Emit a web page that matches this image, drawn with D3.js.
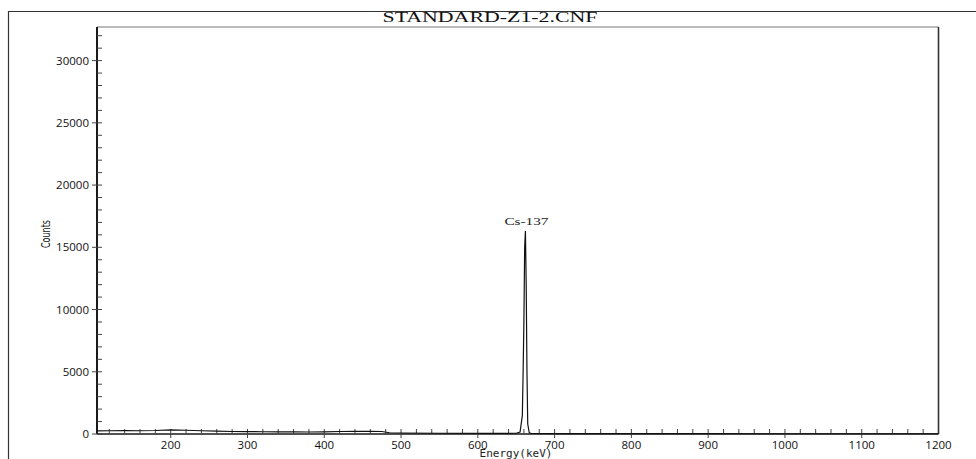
<!DOCTYPE html>
<html><head><meta charset="utf-8">
<script src="https://cdn.jsdelivr.net/npm/d3@7"></script>
<style>body{margin:0;background:#fff}svg{display:block}</style>
</head><body><svg id="c" width="976" height="459"></svg>
<script>
const title = "STANDARD-Z1-2.CNF";
const peakLabel = "Cs-137";
const peakEnergy = 662;
const xLabel = "Energy(keV)";
const yLabel = "Counts";
const xTicks = [200,300,400,500,600,700,800,900,1000,1100,1200];
const yTicks = [0,5000,10000,15000,20000,25000,30000];
const energy = [104,120,140,160,180,200,220,240,260,280,300,320,340,360,380,400,420,440,460,475,485,500,550,600,640,650,655,658,659,660,661,662,663,664,665,667,670,700,800,900,1000,1100,1200];
const counts = [250,260,270,260,280,330,300,260,230,200,190,180,170,170,160,170,200,210,220,200,100,80,60,50,50,60,150,1500,5000,9000,15000,16300,12000,5000,800,100,40,30,25,25,20,20,20];

const svg = d3.select("#c");
const L=97,R=938.5,T=27,B=434;
const x = d3.scaleLinear().domain([104,1200]).range([L,R]);
const y = d3.scaleLinear().domain([0,32700]).range([B,T]);
const ink="#1a1a1a";

// outer frame
svg.append("line").attr("x1",8).attr("x2",976).attr("y1",11.5).attr("y2",11.5).attr("stroke","#333").attr("stroke-width",1.2);
svg.append("line").attr("x1",8.5).attr("x2",8.5).attr("y1",11).attr("y2",459).attr("stroke","#333").attr("stroke-width",1.2);

// title
svg.append("text").attr("x",490).attr("y",22).attr("text-anchor","middle")
  .attr("font-family","Liberation Serif").attr("font-size",15)
  .attr("textLength",215).attr("lengthAdjust","spacingAndGlyphs").attr("fill","#111").text(title);

// plot frame
svg.append("line").attr("x1",L).attr("x2",R).attr("y1",T).attr("y2",T).attr("stroke","#777").attr("stroke-width",1.2);
svg.append("line").attr("x1",R).attr("x2",R).attr("y1",T).attr("y2",B).attr("stroke","#333").attr("stroke-width",1.6);
svg.append("line").attr("x1",L).attr("x2",R).attr("y1",B).attr("y2",B).attr("stroke",ink).attr("stroke-width",1.4);
svg.append("line").attr("x1",L).attr("x2",L).attr("y1",T).attr("y2",B).attr("stroke",ink).attr("stroke-width",2);

// y ticks
const yMinor = d3.range(0,33000,1000);
svg.append("g").selectAll("line").data(yMinor).join("line")
  .attr("x1",d=>yTicks.includes(d)?L-5:L).attr("x2",L+5)
  .attr("y1",d=>y(d)).attr("y2",d=>y(d)).attr("stroke","#444").attr("stroke-width",1);
svg.append("g").selectAll("text").data(yTicks).join("text")
  .attr("x",89).attr("y",d=>y(d)+4).attr("text-anchor","end")
  .attr("font-family","Open Sans").attr("font-size",11.5).attr("fill","#111").text(d=>d);

// x ticks
const xMinor = d3.range(120,1200,20);
svg.append("g").selectAll("line").data(xMinor).join("line")
  .attr("x1",d=>x(d)).attr("x2",d=>x(d))
  .attr("y1",B-5).attr("y2",d=>xTicks.includes(d)?B+4:B).attr("stroke","#444").attr("stroke-width",1);
svg.append("g").selectAll("text").data(xTicks).join("text")
  .attr("x",d=>x(d)).attr("y",449).attr("text-anchor","middle")
  .attr("font-family","Open Sans").attr("font-size",11.5).attr("fill","#111").text(d=>d);

// axis labels
svg.append("text").attr("transform","translate(50,234) rotate(-90)").attr("text-anchor","middle")
  .attr("font-family","DejaVu Sans Condensed").attr("font-size",12.5)
  .attr("textLength",28).attr("lengthAdjust","spacingAndGlyphs").attr("fill","#111").text(yLabel);
svg.append("text").attr("x",516).attr("y",457).attr("text-anchor","middle")
  .attr("font-family","DejaVu Sans Mono").attr("font-size",11).attr("fill","#222").text(xLabel);

// spectrum
const pts = energy.map((e,i)=>[e,counts[i]]);
svg.append("path").datum(pts).attr("fill","none").attr("stroke","#111").attr("stroke-width",1.2)
  .attr("d",d3.line().x(d=>x(d[0])).y(d=>y(d[1])));

// peak label
const pk = counts[energy.indexOf(peakEnergy)];
svg.append("text").attr("x",x(peakEnergy)+1).attr("y",y(pk)-6).attr("text-anchor","middle")
  .attr("font-family","Liberation Serif").attr("font-size",11)
  .attr("textLength",44).attr("lengthAdjust","spacingAndGlyphs").attr("fill","#222").text(peakLabel);
</script></body></html>
